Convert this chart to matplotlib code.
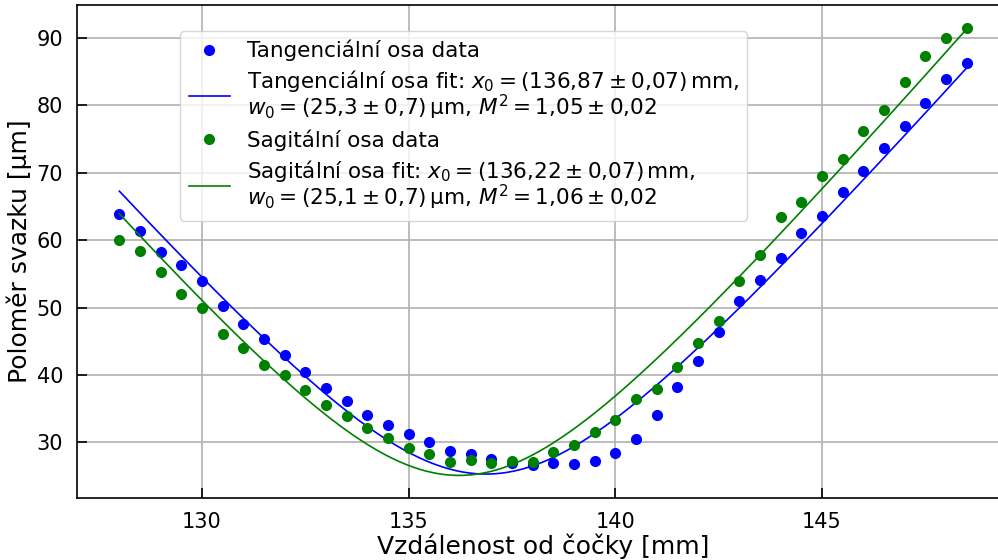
import numpy as np
import matplotlib
matplotlib.use('Agg')
import matplotlib.pyplot as plt

# measured positions [mm]
z = [128.0, 128.5, 129.0, 129.5, 130.0, 130.5, 131.0, 131.5, 132.0, 132.5,
     133.0, 133.5, 134.0, 134.5, 135.0, 135.5, 136.0, 136.5, 137.0, 137.5,
     138.0, 138.5, 139.0, 139.5, 140.0, 140.5, 141.0, 141.5, 142.0, 142.5,
     143.0, 143.5, 144.0, 144.5, 145.0, 145.5, 146.0, 146.5, 147.0, 147.5,
     148.0, 148.5]

# beam radius [um]
w_tan = [63.9, 61.35, 58.3, 56.35, 53.9, 50.2, 47.6, 45.3, 42.9, 40.45,
         38.1, 36.1, 34.05, 32.65, 31.2, 30.1, 28.65, 28.3, 27.5, 27.0,
         26.6, 26.9, 26.8, 27.3, 28.5, 30.5, 34.0, 38.15, 42.05, 46.35,
         51.05, 54.05, 57.35, 61.1, 63.55, 67.2, 70.3, 73.7, 76.9, 80.4,
         83.85, 86.3]

w_sag = [60.0, 58.45, 55.3, 51.95, 50.0, 46.15, 44.05, 41.5, 40.05, 37.8,
         35.6, 33.9, 32.1, 30.7, 29.2, 28.35, 27.05, 27.35, 26.95, 27.2,
         27.1, 28.6, 29.6, 31.6, 33.3, 36.5, 37.85, 41.2, 44.7, 48.0,
         53.9, 57.8, 63.5, 65.7, 69.5, 72.0, 76.2, 79.3, 83.5, 87.3,
         90.0, 91.55]

# fit parameters (from legend)
lam = 532e-6  # mm
fit_tan = (136.87, 25.3, 1.05)
fit_sag = (136.22, 25.1, 1.06)


def beam(zz, z0, w0, m2):
    zr = np.pi * (w0 * 1e-3) ** 2 / (m2 * lam)
    return w0 * np.sqrt(1 + ((zz - z0) / zr) ** 2)


plt.rcParams['font.size'] = 15

fig = plt.figure(figsize=(9.98, 5.6), dpi=100)
ax = fig.add_axes([77 / 998, 62 / 560, 932 / 998, 493 / 560])

zf = np.linspace(min(z), max(z), 400)

ax.plot(z, w_tan, 'o', color='blue', ms=7, label='Tangenciální osa data')
ax.plot(zf, beam(zf, *fit_tan), color='blue', lw=1.2,
        label='Tangenciální osa fit: $x_0 = (136{,}87 \\pm 0{,}07)\\,$mm,\n'
              '$w_0 = (25{,}3 \\pm 0{,}7)\\,$µm, $M^2 = 1{,}05 \\pm 0{,}02$')
ax.plot(z, w_sag, 'o', color='green', ms=7, label='Sagitální osa data')
ax.plot(zf, beam(zf, *fit_sag), color='green', lw=1.2,
        label='Sagitální osa fit: $x_0 = (136{,}22 \\pm 0{,}07)\\,$mm,\n'
              '$w_0 = (25{,}1 \\pm 0{,}7)\\,$µm, $M^2 = 1{,}06 \\pm 0{,}02$')

ax.set_xlim(126.975, 149.525)
ax.set_ylim(21.75, 94.9)
ax.set_xticks([130, 135, 140, 145])
ax.set_yticks([30, 40, 50, 60, 70, 80, 90])

ax.grid(True, color='#b0b0b0', lw=1.2)
ax.set_axisbelow(True)
ax.tick_params(direction='in', length=7, width=1.2, pad=10, labelsize=15)
for s in ax.spines.values():
    s.set_linewidth(1.2)

ax.set_xlabel('Vzdálenost od čočky [mm]', fontsize=18, labelpad=1)
ax.set_ylabel('Poloměr svazku [µm]', fontsize=18, labelpad=3)

leg = ax.legend(loc='upper left', bbox_to_anchor=(103 / 932, 467 / 493),
                borderaxespad=0, fontsize=15.5, labelspacing=0.33,
                handlelength=1.9)
for t in leg.get_texts():
    t.set_linespacing(0.95)

fig.savefig('out.png', dpi=100)
